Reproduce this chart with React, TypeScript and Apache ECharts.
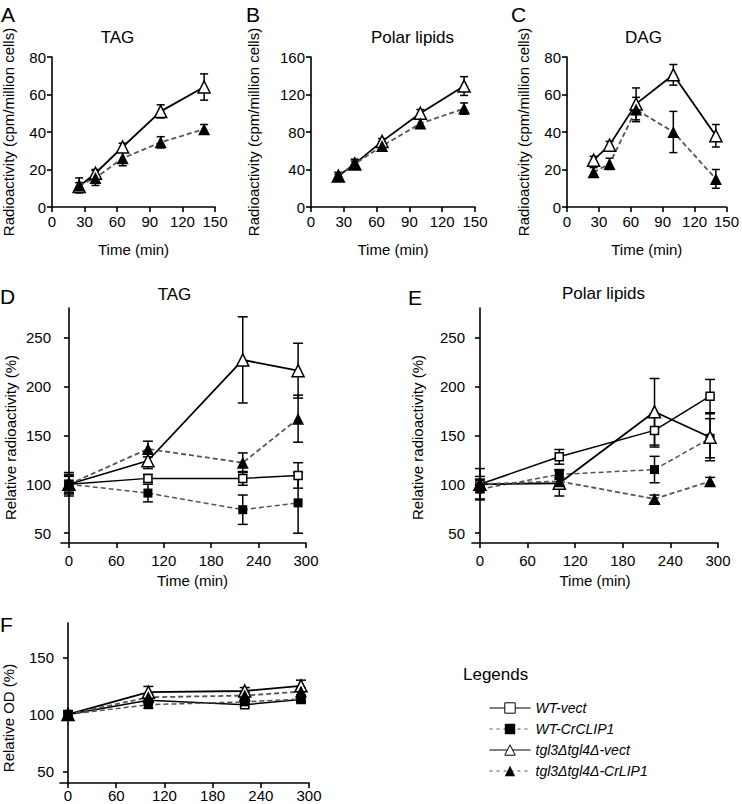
import React, { useEffect, useRef } from "react";
import * as echarts from "echarts";

// ---------- DATA ----------
const pulseTimes = [25, 40, 65, 100, 140];
const tagVect = [11, 18, 32, 51, 64];
const tagVectErr = [2, 2, 2, 3.5, 7];
const tagLip = [11.5, 15.5, 26, 34.5, 41.5];
const tagLipErr = [4, 4, 4, 3, 2.5];
const polarVect = [33, 46, 70, 100, 129];
const polarVectErr = [2, 3, 3, 4, 10];
const polarLip = [33, 46, 65, 89, 105];
const polarLipErr = [4, 5, 5, 5, 6];
const dagVect = [25, 33, 55, 70.5, 38];
const dagVectErr = [2, 2, 8.5, 5.5, 6];
const dagLip = [18.5, 23, 52, 40, 15];
const dagLipErr = [2.5, 3, 6.5, 11, 5];

const chaseTimes = [0, 100, 220, 290];
const dWtVect = [100, 106, 106, 109];
const dWtVectErr = [12, 4, 7, 13];
const dWtLip = [100, 91, 74, 81];
const dWtLipErr = [10, 9, 15, 31];
const dTglVect = [100, 124, 227, 216];
const dTglVectErr = [8, 8, 44, 28];
const dTglLip = [100, 136, 122, 167];
const dTglLipErr = [9, 8, 10, 24];

const eWtVect = [100, 128, 155, 190];
const eWtVectErr = [8, 7.5, 17, 17];
const eWtLip = [95, 110, 115, 147];
const eWtLipErr = [10, 5, 13.5, 20];
const eTglVect = [100, 101, 174, 148];
const eTglVectErr = [16, 13, 34, 24];
const eTglLip = [100, 103, 85, 103];
const eTglLipErr = [5, 4, 4, 4];

const fWtVect = [100, 112.5, 108.5, 113];
const fWtVectErr = [2, 2, 2, 2];
const fWtLip = [100, 108.5, 111, 113.5];
const fWtLipErr = [2, 3, 2, 2];
const fTglVect = [100, 119.5, 120.5, 125];
const fTglVectErr = [2, 5, 3, 5];
const fTglLip = [100, 115, 116.5, 120];
const fTglLipErr = [3, 3, 3, 3];

const chaseTicks = [0, 60, 120, 180, 240, 300];
const relTicks = [50, 100, 150, 200, 250];
const odTicks = [50, 100, 150];

const seriesNames = ["WT-vect", "WT-CrCLIP1", "tgl3Δtgl4Δ-vect", "tgl3Δtgl4Δ-CrLIP1"];
const panelTitles = ["TAG", "Polar lipids", "DAG", "TAG", "Polar lipids"];
const panelLetters = ["A", "B", "C", "D", "E", "F"];

// ---------- STYLE ----------
const FONT = "'Liberation Sans', Arial, Helvetica, sans-serif";
const GRAY = "#555";

const styles: any = {
  "WT-vect": {
    symbol: "rect",
    symbolSize: 8,
    itemStyle: { color: "#fff", borderColor: "#000", borderWidth: 1.5 },
    lineStyle: { color: "#000", width: 1.5, type: "solid" },
  },
  "WT-CrCLIP1": {
    symbol: "rect",
    symbolSize: 9,
    itemStyle: { color: "#000", borderColor: "#000", borderWidth: 0 },
    lineStyle: { color: GRAY, width: 1.5, type: [5, 3] },
  },
  "tgl3Δtgl4Δ-vect": {
    symbol: "triangle",
    symbolSize: 12,
    itemStyle: { color: "#fff", borderColor: "#000", borderWidth: 1.5 },
    lineStyle: { color: "#000", width: 1.8, type: "solid" },
  },
  "tgl3Δtgl4Δ-CrLIP1": {
    symbol: "triangle",
    symbolSize: 12,
    itemStyle: { color: "#000", borderColor: "#000", borderWidth: 0 },
    lineStyle: { color: GRAY, width: 1.8, type: [5, 3] },
  },
};

function pts(xs: number[], ys: number[]) {
  return xs.map((x, i) => [x, ys[i]]);
}
function errs(xs: number[], ys: number[], es: number[]) {
  return xs.map((x, i) => [x, ys[i] - es[i], ys[i] + es[i]]);
}

function lineSeries(name: string, idx: number, xs: number[], ys: number[]) {
  const s = styles[name];
  return {
    type: "line",
    name,
    xAxisIndex: idx,
    yAxisIndex: idx,
    data: pts(xs, ys),
    symbol: s.symbol,
    symbolSize: s.symbolSize,
    itemStyle: s.itemStyle,
    lineStyle: s.lineStyle,
    showSymbol: true,
    z: 3,
    clip: false,
  };
}

function errSeries(idx: number, xs: number[], ys: number[], es: number[], cap: number) {
  return {
    type: "custom",
    name: "err",
    xAxisIndex: idx,
    yAxisIndex: idx,
    data: errs(xs, ys, es),
    encode: { x: 0, y: [1, 2] },
    z: 2,
    clip: false,
    renderItem: (params: any, api: any) => {
      const x = api.value(0);
      const p1 = api.coord([x, api.value(1)]);
      const p2 = api.coord([x, api.value(2)]);
      const st = { stroke: "#000", lineWidth: 1.5 };
      return {
        type: "group",
        children: [
          { type: "line", shape: { x1: p1[0], y1: p1[1], x2: p2[0], y2: p2[1] }, style: st },
          { type: "line", shape: { x1: p1[0] - cap, y1: p1[1], x2: p1[0] + cap, y2: p1[1] }, style: st },
          { type: "line", shape: { x1: p2[0] - cap, y1: p2[1], x2: p2[0] + cap, y2: p2[1] }, style: st },
        ],
      };
    },
  };
}

const axisLineStyle = { lineStyle: { color: "#000", width: 1.6 } };
const tickStyle = { length: 5, lineStyle: { color: "#000", width: 1.6 } };
const labelStyle = { color: "#000", fontSize: 15, fontFamily: FONT };
const nameStyle = { color: "#000", fontSize: 15, fontFamily: FONT };

export default function App() {
  const ref = useRef<HTMLDivElement>(null);

  useEffect(() => {
    if (!ref.current) return;
    const chart = echarts.init(ref.current, null, { renderer: "svg" });

    const grids = [
      { left: 51, top: 57, width: 164, height: 150 },
      { left: 311, top: 57, width: 164, height: 150 },
      { left: 567, top: 57, width: 164, height: 150 },
      { left: 61, top: 308, width: 245, height: 235 },
      { left: 472, top: 308, width: 246, height: 235 },
      { left: 59, top: 623, width: 250, height: 160 },
    ];

    const pulseX = (i: number) => ({
      type: "value",
      gridIndex: i,
      min: 0,
      max: 150,
      interval: 30,
      name: "Time (min)",
      nameLocation: "middle",
      nameGap: 35,
      nameTextStyle: nameStyle,
      axisLine: { ...axisLineStyle, onZero: false },
      axisTick: tickStyle,
      axisLabel: { ...labelStyle, margin: 7 },
      splitLine: { show: false },
    });
    const pulseY = (i: number, max: number, interval: number, gap: number) => ({
      type: "value",
      gridIndex: i,
      min: 0,
      max,
      interval,
      name: "Radioactivity (cpm/million cells)",
      nameLocation: "middle",
      nameGap: gap,
      nameTextStyle: nameStyle,
      axisLine: { show: true, ...axisLineStyle },
      axisTick: { show: true, ...tickStyle },
      axisLabel: { ...labelStyle, margin: 6 },
      splitLine: { show: false },
    });
    const chaseX = (i: number, withName: boolean, margin: number, pad: number) => ({
      type: "value",
      gridIndex: i,
      min: -10,
      max: 300,
      name: withName ? "Time (min)" : "",
      nameLocation: "middle",
      nameGap: 30,
      nameTextStyle: { ...nameStyle, padding: [0, 0, 0, pad] },
      axisLine: { ...axisLineStyle, onZero: false },
      axisTick: { ...tickStyle, customValues: chaseTicks },
      axisLabel: { ...labelStyle, margin, customValues: chaseTicks },
      splitLine: { show: false },
    });
    const relY = (i: number, name: string, max: number, ticks: number[], gap: number, margin: number, pad: number) => ({
      type: "value",
      gridIndex: i,
      min: 40,
      max,
      name,
      nameLocation: "middle",
      nameGap: gap,
      nameTextStyle: { ...nameStyle, padding: [0, pad, 0, 0] },
      axisLine: { show: true, ...axisLineStyle },
      axisTick: { show: true, ...tickStyle, customValues: ticks },
      axisLabel: { ...labelStyle, margin, customValues: ticks },
      splitLine: { show: false },
    });

    const xAxis = [
      pulseX(0),
      pulseX(1),
      pulseX(2),
      chaseX(3, true, 10, 18),
      chaseX(4, true, 10, 0),
      chaseX(5, false, 5, 0),
    ];
    const yAxis = [
      pulseY(0, 80, 20, 36),
      pulseY(1, 160, 40, 50),
      pulseY(2, 80, 20, 36),
      relY(3, "Relative radioactivity (%)", 280, relTicks, 43, 10, 24),
      relY(4, "Relative radioactivity (%)", 280, relTicks, 47, 7, 24),
      relY(5, "Relative OD (%)", 180, odTicks, 44, 6, 30),
    ];

    const rowSets: any[] = [
      [0, [tagVect, tagVectErr], [tagLip, tagLipErr]],
      [1, [polarVect, polarVectErr], [polarLip, polarLipErr]],
      [2, [dagVect, dagVectErr], [dagLip, dagLipErr]],
    ];
    const chaseSets: any[] = [
      [3, [[dWtVect, dWtVectErr], [dWtLip, dWtLipErr], [dTglVect, dTglVectErr], [dTglLip, dTglLipErr]]],
      [4, [[eWtVect, eWtVectErr], [eWtLip, eWtLipErr], [eTglVect, eTglVectErr], [eTglLip, eTglLipErr]]],
      [5, [[fWtVect, fWtVectErr], [fWtLip, fWtLipErr], [fTglVect, fTglVectErr], [fTglLip, fTglLipErr]]],
    ];

    const series: any[] = [];
    rowSets.forEach(([idx, vect, lip]) => {
      series.push(errSeries(idx, pulseTimes, vect[0], vect[1], 4));
      series.push(errSeries(idx, pulseTimes, lip[0], lip[1], 4));
    });
    chaseSets.forEach(([idx, sets]) => {
      sets.forEach((s: any) => series.push(errSeries(idx, chaseTimes, s[0], s[1], 5)));
    });
    rowSets.forEach(([idx, vect, lip]) => {
      series.push(lineSeries(seriesNames[2], idx, pulseTimes, vect[0]));
      series.push(lineSeries(seriesNames[3], idx, pulseTimes, lip[0]));
    });
    chaseSets.forEach(([idx, sets]) => {
      sets.forEach((s: any, k: number) => series.push(lineSeries(seriesNames[k], idx, chaseTimes, s[0])));
    });

    const titlePos = [
      [117.5, 37],
      [412.5, 37],
      [643.5, 37],
      [174.5, 294],
      [603.5, 293],
    ];
    const letterPos = [
      [1, 4],
      [246, 4],
      [511, 4],
      [0, 286],
      [408, 287],
      [0, 614],
    ];

    const graphic: any[] = [];
    panelTitles.forEach((t, i) => {
      graphic.push({
        type: "text",
        x: titlePos[i][0],
        y: titlePos[i][1],
        style: {
          text: t,
          fill: "#000",
          fontSize: 17,
          fontFamily: FONT,
          textAlign: "center",
          textVerticalAlign: "middle",
        },
      });
    });
    panelLetters.forEach((t, i) => {
      graphic.push({
        type: "text",
        x: letterPos[i][0],
        y: letterPos[i][1],
        style: {
          text: t,
          fill: "#000",
          fontSize: 21,
          fontFamily: FONT,
          textAlign: "left",
          textVerticalAlign: "top",
        },
      });
    });
    graphic.push({
      type: "text",
      x: 463,
      y: 674,
      style: {
        text: "Legends",
        fill: "#000",
        fontSize: 17,
        fontFamily: FONT,
        textAlign: "left",
        textVerticalAlign: "middle",
      },
    });

    const legendData = seriesNames.map((n, k) => ({
      name: n,
      lineStyle: {
        width: 1,
        color: k % 2 === 0 ? "#000" : GRAY,
        type: k % 2 === 0 ? "solid" : [3, 4],
      },
      itemStyle: { borderWidth: k % 2 === 0 ? 1 : 0 },
    }));

    chart.setOption({
      animation: false,
      backgroundColor: "#fff",
      grid: grids,
      xAxis,
      yAxis,
      series,
      graphic,
      legend: {
        data: legendData,
        orient: "vertical",
        left: 484,
        top: 696,
        itemWidth: 41,
        itemHeight: 13,
        itemGap: 7,
        selectedMode: false,
        textStyle: { color: "#000", fontSize: 14, fontStyle: "italic", fontFamily: FONT },
      },
    });

    return () => chart.dispose();
  }, []);

  return (
    <div
      ref={ref}
      style={{ position: "fixed", left: 0, top: 0, width: 742, height: 804, background: "#fff" }}
    />
  );
}
